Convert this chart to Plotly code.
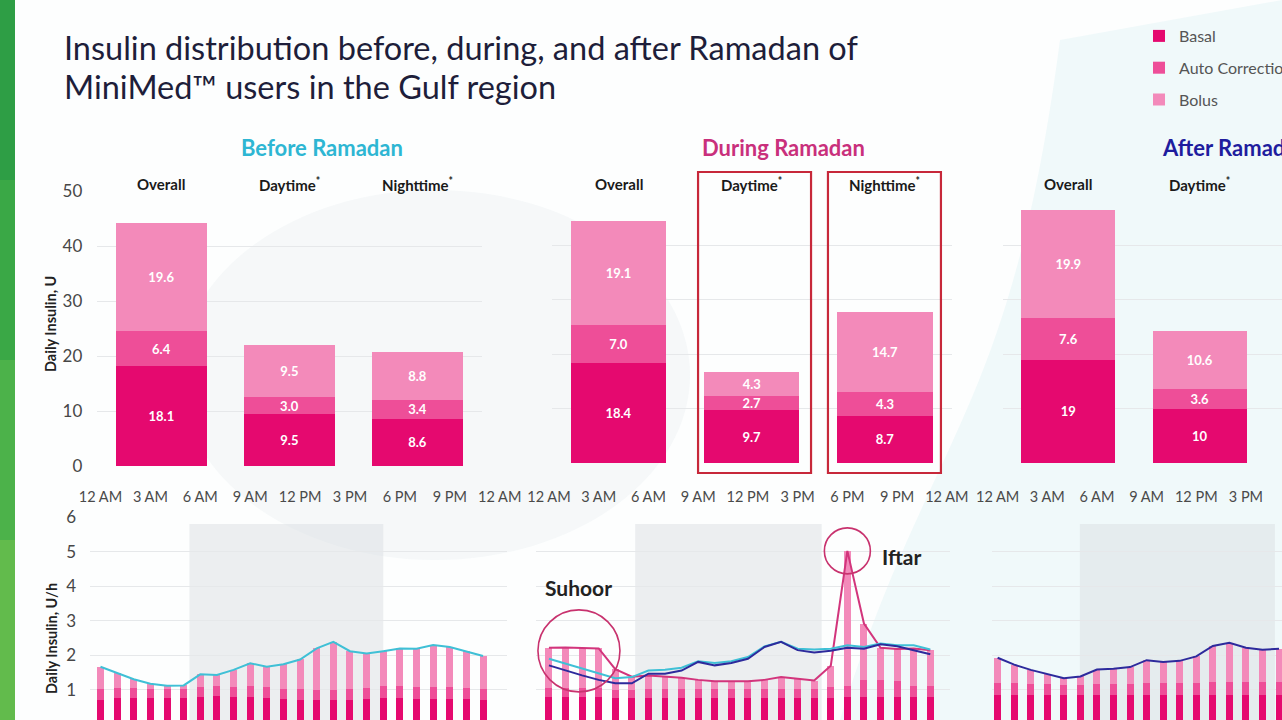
import plotly.graph_objects as go

W, H = 1282, 720
def fx(p): return p / W
def fy(p): return 1 - p / H

FONT = "Lato"

# ---------------- data ----------------
periods = ["Overall", "Daytime", "Nighttime"]
period_labels = ["Overall", "Daytime<sup>*</sup>", "Nighttime<sup>*</sup>"]

before_basal = [18.1, 9.5, 8.6]
before_auto = [6.4, 3.0, 3.4]
before_bolus = [19.6, 9.5, 8.8]

during_basal = [18.4, 9.7, 8.7]
during_auto = [7.0, 2.7, 4.3]
during_bolus = [19.1, 4.3, 14.7]

after_periods = ["Overall", "Daytime"]
after_basal = [19, 10]
after_auto = [7.6, 3.6]
after_bolus = [19.9, 10.6]

hour_ticks = [0, 3, 6, 9, 12, 15, 18, 21, 24]
hour_labels = ["12 AM", "3 AM", "6 AM", "9 AM", "12 PM", "3 PM", "6 PM", "9 PM", "12 AM"]
hours = list(range(24))
hours_after = list(range(18))

# hourly totals (U/h)
before_total_h = [1.67, 1.50, 1.31, 1.18, 1.12, 1.13, 1.45, 1.43, 1.58, 1.77, 1.67, 1.74,
                  1.88, 2.20, 2.39, 2.12, 2.05, 2.12, 2.20, 2.19, 2.30, 2.24, 2.12, 1.98]
before_basal_h = [0.72, 0.76, 0.78, 0.78, 0.78, 0.78, 0.80, 0.82, 0.80, 0.80, 0.78, 0.74,
                  0.72, 0.70, 0.70, 0.72, 0.74, 0.76, 0.76, 0.74, 0.74, 0.74, 0.74, 0.72]
before_auto_h = [0.32, 0.30, 0.28, 0.26, 0.24, 0.25, 0.28, 0.28, 0.28, 0.30, 0.30, 0.30,
                 0.30, 0.30, 0.30, 0.30, 0.32, 0.34, 0.34, 0.34, 0.34, 0.34, 0.32, 0.30]

during_total_h = [2.22, 2.23, 2.21, 2.20, 1.60, 1.38, 1.42, 1.39, 1.35, 1.29, 1.25, 1.25,
                  1.25, 1.29, 1.37, 1.32, 1.27, 1.70, 5.02, 2.92, 2.22, 2.18, 2.20, 2.15]
during_basal_h = [0.80, 0.80, 0.80, 0.80, 0.78, 0.78, 0.78, 0.78, 0.78, 0.78, 0.78, 0.78,
                  0.78, 0.78, 0.78, 0.78, 0.78, 0.78, 0.80, 0.80, 0.80, 0.80, 0.80, 0.80]
during_auto_h = [0.25, 0.25, 0.25, 0.25, 0.22, 0.22, 0.25, 0.25, 0.25, 0.25, 0.25, 0.25,
                 0.25, 0.25, 0.25, 0.25, 0.25, 0.30, 0.30, 0.50, 0.50, 0.45, 0.30, 0.30]
during_before_ref_h = [1.90, 1.76, 1.61, 1.47, 1.34, 1.37, 1.56, 1.58, 1.64, 1.83, 1.78, 1.83,
                       1.95, 2.26, 2.39, 2.19, 2.17, 2.19, 2.29, 2.24, 2.34, 2.29, 2.29, 2.17]
during_after_ref_h = [1.71, 1.56, 1.42, 1.29, 1.19, 1.19, 1.47, 1.47, 1.56, 1.81, 1.71, 1.78,
                      1.90, 2.24, 2.39, 2.15, 2.08, 2.13, 2.22, 2.19, 2.32, 2.26, 2.15, 2.03]

after_total_h = [1.93, 1.73, 1.58, 1.47, 1.34, 1.39, 1.59, 1.61, 1.66, 1.86, 1.81, 1.84,
                 1.97, 2.27, 2.36, 2.22, 2.16, 2.19]
after_basal_h = [0.86, 0.86, 0.86, 0.86, 0.86, 0.86, 0.86, 0.86, 0.86, 0.86, 0.86, 0.86,
                 0.86, 0.86, 0.86, 0.86, 0.86, 0.86]
after_auto_h = [0.34, 0.34, 0.32, 0.30, 0.28, 0.28, 0.32, 0.32, 0.32, 0.34, 0.34, 0.34,
                0.34, 0.36, 0.36, 0.36, 0.36, 0.36]

# ---------------- style ----------------
C_BASAL = "#E5096F"
C_AUTO = "#EE4E98"
C_BOLUS = "#F38ABA"
C_BEFORE = "#3FC0D6"
C_DURING = "#D2357C"
C_AFTER = "#2D2A9C"
GRID = "#E6E8EA"

fig = go.Figure()

def stacked(xs, basal, auto, bolus, xa, ya, width, show_text, legend=False):
    comps = [("Basal", basal, C_BASAL), ("Auto Correction", auto, C_AUTO), ("Bolus", bolus, C_BOLUS)]
    for name, vals, col in comps:
        fig.add_trace(go.Bar(
            x=xs, y=vals, name=name, marker=dict(color=col, line=dict(width=0)),
            width=width, xaxis=xa, yaxis=ya,
            text=[str(v) for v in vals] if show_text else None,
            textposition="inside" if show_text else "none",
            insidetextanchor="middle", textangle=0, constraintext="none",
            textfont=dict(family=FONT, size=13, color="white", weight="bold"),
            showlegend=legend, legendgroup=name, hoverinfo="skip"))

stacked(periods, before_basal, before_auto, before_bolus, "x", "y", 0.715, True, legend=True)
stacked(periods, during_basal, during_auto, during_bolus, "x2", "y2", 0.715, True)
stacked(after_periods, after_basal, after_auto, after_bolus, "x3", "y3", 0.715, True)

def rest(total, basal, auto):
    return [round(t - b - a, 2) for t, b, a in zip(total, basal, auto)]

stacked(hours, before_basal_h, before_auto_h, rest(before_total_h, before_basal_h, before_auto_h),
        "x4", "y4", 0.42, False)
stacked(hours, during_basal_h, during_auto_h, rest(during_total_h, during_basal_h, during_auto_h),
        "x5", "y5", 0.42, False)
stacked(hours_after, after_basal_h, after_auto_h, rest(after_total_h, after_basal_h, after_auto_h),
        "x6", "y6", 0.42, False)

def line(xs, ys, col, xa, ya):
    fig.add_trace(go.Scatter(x=xs, y=ys, mode="lines", line=dict(color=col, width=2),
                             xaxis=xa, yaxis=ya, showlegend=False, hoverinfo="skip"))

line(hours, before_total_h, C_BEFORE, "x4", "y4")
line(hours, during_total_h, C_DURING, "x5", "y5")
line(hours, during_before_ref_h, C_BEFORE, "x5", "y5")
line(hours, during_after_ref_h, C_AFTER, "x5", "y5")
line(hours_after, after_total_h, C_AFTER, "x6", "y6")

# ---------------- axes ----------------
def cat_x(dom, rng, anchor, cats):
    return dict(domain=[fx(dom[0]), fx(dom[1])], range=rng, anchor=anchor, type="category",
                categoryorder="array", categoryarray=cats, showticklabels=False,
                showgrid=False, zeroline=False, showline=False, fixedrange=True)

def up_y(dom, anchor, labels):
    return dict(domain=[fy(dom[1]), fy(dom[0])], range=[0, 50], anchor=anchor,
                tickvals=[0, 10, 20, 30, 40, 50], showticklabels=labels,
                ticklabelstandoff=14, tickfont=dict(family=FONT, size=17, color="#474747"),
                showgrid=True, gridcolor=GRID, gridwidth=1, zeroline=False, showline=False)

def time_x(dom, rng, anchor):
    return dict(domain=[fx(dom[0]), fx(dom[1])], range=rng, anchor=anchor, side="top",
                tickvals=hour_ticks, ticktext=hour_labels, ticks="", ticklabelstandoff=11,
                tickfont=dict(family=FONT, size=14.5, color="#4A4A4A"),
                showgrid=False, zeroline=False, showline=False)

def low_y(anchor, labels):
    return dict(domain=[0, fy(517)], range=[0.13, 6], anchor=anchor,
                tickvals=[1, 2, 3, 4, 5, 6], showticklabels=labels, ticklabelstandoff=13,
                tickfont=dict(family=FONT, size=17, color="#474747"),
                showgrid=True, gridcolor=GRID, gridwidth=1, zeroline=False, showline=False)

layout_axes = dict(
    xaxis=cat_x((97.3, 481.5), [-0.5, 2.5], "y", periods),
    xaxis2=cat_x((551.9, 951.6), [-0.5, 2.5], "y2", periods),
    xaxis3=cat_x((1002.6, 1282), [-0.5, 1.626], "y3", periods),
    yaxis=up_y((191, 466), "x", True),
    yaxis2=up_y((191, 463), "x2", False),
    yaxis3=up_y((191, 463), "x3", False),
    xaxis4=time_x((90, 507), [-0.63, 24.44], "y4"),
    xaxis5=time_x((536, 950), [-0.78, 24.19], "y5"),
    xaxis6=time_x((992, 1282), [-0.34, 17.18], "y6"),
    yaxis4=low_y("x4", True),
    yaxis5=low_y("x5", False),
    yaxis6=low_y("x6", False),
)

# ---------------- decorations ----------------
shapes = []
# soft background swooshes
shapes.append(dict(type="circle", xref="paper", yref="paper", x0=fx(180), x1=fx(690),
                   y0=fy(560), y1=fy(190), fillcolor="rgba(232,239,242,0.35)",
                   line=dict(width=0), layer="below"))
shapes.append(dict(type="path", xref="paper", yref="paper", layer="below",
                   path=("M {a},{b} C {c},{d} {e},{f} {g},{h} L {i},{j} L {k},{l} Z").format(
                       a=fx(840), b=fy(720), c=fx(930), d=fy(430), e=fx(1010), f=fy(420),
                       g=fx(1060), h=fy(40), i=fx(1282), j=fy(0), k=fx(1282), l=fy(720)),
                   fillcolor="rgba(208,236,239,0.28)", line=dict(width=0)))
# green strip on the left
for i, col in enumerate(["#2E9E45", "#3AA846", "#4CB24A", "#62BB4C"]):
    shapes.append(dict(type="rect", xref="paper", yref="paper", x0=0, x1=fx(15),
                       y0=1 - (i + 1) * 0.25, y1=1 - i * 0.25, fillcolor=col,
                       line=dict(width=0), layer="below"))
# daytime shading in lower panels
for xa, ya, x0, x1 in [("x4", "y4", 5.35, 17.0), ("x5", "y5", 5.2, 16.45), ("x6", "y6", 4.97, 16.75)]:
    shapes.append(dict(type="rect", xref=xa, yref=ya + " domain", x0=x0, x1=x1, y0=0,
                       y1=(720 - 524) / 203, fillcolor="rgba(214,220,224,0.45)",
                       line=dict(width=0), layer="below"))
# red highlight boxes (During Ramadan daytime / nighttime)
for x0, x1 in [(0.597, 1.445), (1.572, 2.42)]:
    shapes.append(dict(type="rect", xref="x2", yref="paper", x0=x0, x1=x1,
                       y0=fy(473), y1=fy(172), line=dict(color="#C7283A", width=2.2),
                       fillcolor="rgba(0,0,0,0)"))
# Suhoor / Iftar circles
shapes.append(dict(type="circle", xref="x5", yref="y5", xsizemode="pixel", ysizemode="pixel",
                   xanchor=1.81, yanchor=2.13, x0=-41, x1=41, y0=-41, y1=41,
                   line=dict(color="#C8326E", width=1.6)))
shapes.append(dict(type="circle", xref="x5", yref="y5", xsizemode="pixel", ysizemode="pixel",
                   xanchor=18, yanchor=5.02, x0=-23, x1=23, y0=-23, y1=23,
                   line=dict(color="#C8326E", width=1.6)))

def note(x, y, text, font, xanchor="center", angle=0):
    return dict(x=fx(x), y=fy(y), xref="paper", yref="paper", xanchor=xanchor,
                yanchor="middle", showarrow=False, text=text, font=font, textangle=angle)

TITLE_FONT = dict(family=FONT, size=32.5, color="#1E1E3A")
annotations = [
    note(62, 48, "Insulin distribution before, during, and after Ramadan of", TITLE_FONT, "left"),
    note(62, 86, "MiniMed\u2122 users in the Gulf region", TITLE_FONT, "left"),
    note(322, 148, "<b>Before Ramadan</b>", dict(family=FONT, size=22, color="#2EB6D3")),
    note(783, 148, "<b>During Ramadan</b>", dict(family=FONT, size=22, color="#C9307C")),
    note(1160, 148, "<b>After Ramadan</b>", dict(family=FONT, size=22, color="#1F1D9E"), "left"),
    note(51, 324, "<b>Daily Insulin, U</b>", dict(family=FONT, size=14.5, color="#222"), angle=-90),
    note(51, 639, "<b>Daily Insulin, U/h</b>", dict(family=FONT, size=14.5, color="#222"), angle=-90),
    note(578, 587, "<b>Suhoor</b>", dict(family=FONT, size=21, color="#222")),
    note(901, 556, "<b>Iftar</b>", dict(family=FONT, size=21, color="#222")),
]
for xa, cats in [("x", periods), ("x2", periods), ("x3", after_periods)]:
    for c in cats:
        annotations.append(dict(x=c, y=fy(184), xref=xa, yref="paper", showarrow=False,
                                xanchor="center", yanchor="middle",
                                text="<b>" + period_labels[periods.index(c)] + "</b>",
                                font=dict(family=FONT, size=15, color="#1A1A1A")))

fig.update_layout(
    width=W, height=H, margin=dict(l=0, r=0, t=0, b=0, autoexpand=False),
    paper_bgcolor="#FDFEFE", plot_bgcolor="rgba(0,0,0,0)",
    barmode="stack", font=dict(family=FONT),
    showlegend=True,
    legend=dict(x=fx(1139), y=fy(19), xanchor="left", yanchor="top", traceorder="grouped",
                tracegroupgap=8, font=dict(family=FONT, size=16, color="#555"),
                bgcolor="rgba(0,0,0,0)"),
    shapes=shapes, annotations=annotations,
    **layout_axes,
)

fig.write_html("out.html", config={"displayModeBar": False},
               post_script="document.body.style.margin='0';document.body.style.overflow='hidden';")
